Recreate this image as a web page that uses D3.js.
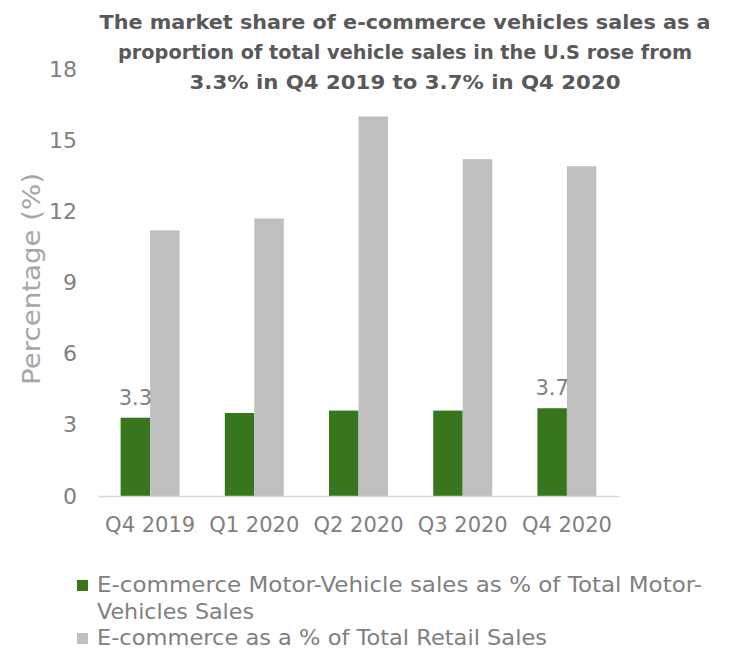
<!DOCTYPE html>
<html>
<head>
<meta charset="utf-8">
<script src="https://cdn.jsdelivr.net/npm/d3@7"></script>
<style>
  html, body { margin: 0; padding: 0; background: #ffffff; }
  svg text { font-family: "DejaVu Sans", "Noto Sans", sans-serif; }
</style>
</head>
<body>
<svg id="chart" width="750" height="672"></svg>
<script>
const categories = ["Q4 2019", "Q1 2020", "Q2 2020", "Q3 2020", "Q4 2020"];
const motorVehicleShare = [3.3, 3.5, 3.6, 3.6, 3.7];
const retailShare = [11.2, 11.7, 16.0, 14.2, 13.9];
const yTicks = [0, 3, 6, 9, 12, 15, 18];
const labelledPoints = ["Q4 2019", "Q4 2020"];
const seriesNames = [
  "E-commerce Motor-Vehicle sales as % of Total Motor-Vehicles Sales",
  "E-commerce as a % of Total Retail Sales"
];
const titleLines = [
  "The market share of e-commerce vehicles sales as a",
  "proportion of total vehicle sales in the U.S rose from",
  "3.3% in Q4 2019 to 3.7% in Q4 2020"
];
const colors = ["#38761d", "#bfbfbf"];

const svg = d3.select("#chart");
const plotLeft = 98, plotRight = 619, plotBottom = 496, plotTop = 69;

const x = d3.scaleBand().domain(categories).range([plotLeft, plotRight])
  .paddingInner(0.434).paddingOuter(0.217);
const xSub = d3.scaleBand().domain([0, 1]).range([0, x.bandwidth()]);
const y = d3.scaleLinear().domain([0, 18]).range([plotBottom, plotTop]);

// Title
const titleWidths = [611, 574, 431];
svg.append("g").selectAll("text").data(titleLines).join("text")
  .attr("x", 405).attr("y", (d, i) => 29 + i * 30)
  .attr("text-anchor", "middle")
  .attr("font-size", 20).attr("font-weight", "bold")
  .attr("fill", "#595959")
  .attr("textLength", (d, i) => titleWidths[i])
  .attr("lengthAdjust", "spacingAndGlyphs")
  .text(d => d);

// Bars
const series = [motorVehicleShare, retailShare];
series.forEach((vals, s) => {
  svg.append("g").selectAll("rect").data(categories).join("rect")
    .attr("x", c => x(c) + xSub(s))
    .attr("y", (c, i) => y(vals[i]))
    .attr("width", xSub.bandwidth())
    .attr("height", (c, i) => y(0) - y(vals[i]))
    .attr("fill", colors[s]);
});

// X axis
const xAxis = d3.axisBottom(x).tickSize(0).tickPadding(21);
const gx = svg.append("g").attr("transform", `translate(0,${plotBottom})`).call(xAxis);
gx.select(".domain").attr("stroke", "#d9d9d9").attr("stroke-width", 1.5);
gx.selectAll("text").attr("font-size", 21).attr("fill", "#808080")
  .style("font-family", "DejaVu Sans, sans-serif").attr("dy", "0.71em");

// Y axis (labels only)
const yAxis = d3.axisLeft(y).tickValues(yTicks).tickSize(0).tickPadding(21);
const gy = svg.append("g").attr("transform", `translate(${plotLeft},0)`).call(yAxis);
gy.select(".domain").remove();
gy.selectAll("text").attr("font-size", 22).attr("fill", "#808080")
  .style("font-family", "DejaVu Sans, sans-serif");

// Y axis title
svg.append("text")
  .attr("transform", "translate(40,279) rotate(-90)")
  .attr("text-anchor", "middle")
  .attr("font-size", 24).attr("fill", "#a6a6a6")
  .attr("textLength", 212).attr("lengthAdjust", "spacingAndGlyphs")
  .text("Percentage (%)");

// Data labels
categories.forEach((c, i) => {
  if (labelledPoints.includes(c)) {
    svg.append("text")
      .attr("x", x(c) + xSub(0) + xSub.bandwidth() / 2)
      .attr("y", y(motorVehicleShare[i]) - 13)
      .attr("text-anchor", "middle")
      .attr("font-size", 21).attr("fill", "#808080")
      .text(motorVehicleShare[i]);
  }
});

// Legend
const legend = svg.append("g");
const legendLines = [
  { sq: 0, text: "E-commerce Motor-Vehicle sales as % of Total Motor-", y: 592, w: 605 },
  { sq: null, text: "Vehicles Sales", y: 619, w: 157 },
  { sq: 1, text: seriesNames[1], y: 645, w: 450 }
];
legendLines.forEach(l => {
  if (l.sq !== null) {
    legend.append("rect").attr("x", 77).attr("y", l.y - 12).attr("width", 11).attr("height", 11)
      .attr("fill", colors[l.sq]);
  }
  legend.append("text").attr("x", 97).attr("y", l.y)
    .attr("font-size", 21).attr("fill", "#808080")
    .attr("textLength", l.w).attr("lengthAdjust", "spacingAndGlyphs")
    .text(l.text);
});
</script>
</body>
</html>
